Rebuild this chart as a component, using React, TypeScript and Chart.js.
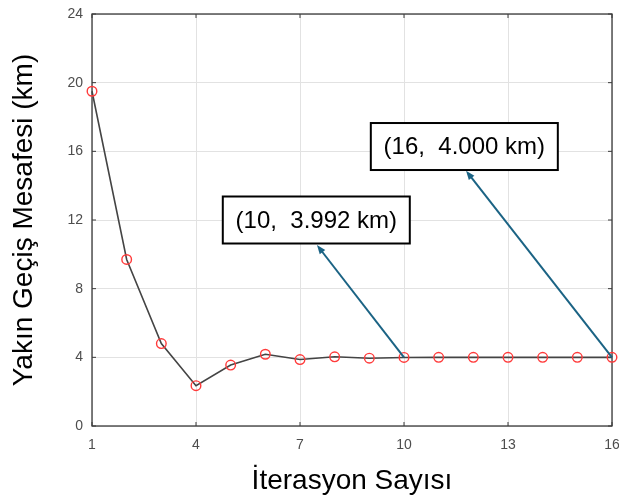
import React, { useEffect, useRef } from 'react';
import { Chart, registerables } from 'chart.js';

Chart.register(...registerables);

const iterations = [1, 2, 3, 4, 5, 6, 7, 8, 9, 10, 11, 12, 13, 14, 15, 16];
const distances = [19.5, 9.7, 4.8, 2.35, 3.55, 4.18, 3.87, 4.03, 3.95, 3.992, 4.0, 4.0, 4.0, 4.0, 4.0, 4.0];
const xTicks = [1, 4, 7, 10, 13, 16];
const yTicks = [0, 4, 8, 12, 16, 20, 24];
const xTitle = 'İterasyon Sayısı';
const yTitle = 'Yakın Geçiş Mesafesi (km)';
const noteLabels = ['(10,  3.992 km)', '(16,  4.000 km)'];
const noteIterations = [10, 16];

// annotation layout (data coordinates)
const noteBoxCenters = [
  { x: 7.47, y: 12.0 },
  { x: 11.74, y: 16.28 },
];
const noteArrowTips = [
  { x: 7.49, y: 10.54 },
  { x: 11.79, y: 14.87 },
];

const FONT = '"Liberation Sans", Arial, Helvetica, sans-serif';

const framePlugin = {
  id: 'frame',
  beforeDatasetsDraw(chart: any) {
    const { ctx, chartArea: a, scales } = chart;
    ctx.save();
    ctx.strokeStyle = '#3a3a3a';
    ctx.lineWidth = 1.3;
    ctx.strokeRect(a.left, a.top, a.right - a.left, a.bottom - a.top);
    ctx.lineWidth = 1;
    ctx.beginPath();
    xTicks.forEach((v) => {
      const px = scales.x.getPixelForValue(v);
      ctx.moveTo(px, a.bottom);
      ctx.lineTo(px, a.bottom - 4);
      ctx.moveTo(px, a.top);
      ctx.lineTo(px, a.top + 4);
    });
    yTicks.forEach((v) => {
      const py = scales.y.getPixelForValue(v);
      ctx.moveTo(a.left, py);
      ctx.lineTo(a.left + 4, py);
      ctx.moveTo(a.right, py);
      ctx.lineTo(a.right - 4, py);
    });
    ctx.stroke();
    ctx.restore();
  },
};

const notesPlugin = {
  id: 'notes',
  afterDatasetsDraw(chart: any) {
    const { ctx, scales } = chart;
    const xs = scales.x;
    const ys = scales.y;
    ctx.save();
    noteLabels.forEach((label, i) => {
      const it = noteIterations[i];
      const val = distances[iterations.indexOf(it)];
      const sx = xs.getPixelForValue(it);
      const sy = ys.getPixelForValue(val);
      const tx = xs.getPixelForValue(noteArrowTips[i].x);
      const ty = ys.getPixelForValue(noteArrowTips[i].y);
      const ang = Math.atan2(ty - sy, tx - sx);
      const headLen = 9;
      const headW = 3.5;
      ctx.strokeStyle = '#1b6384';
      ctx.fillStyle = '#1b6384';
      ctx.lineWidth = 2;
      ctx.beginPath();
      ctx.moveTo(sx, sy);
      ctx.lineTo(tx - Math.cos(ang) * headLen * 0.8, ty - Math.sin(ang) * headLen * 0.8);
      ctx.stroke();
      ctx.beginPath();
      ctx.moveTo(tx, ty);
      const bx = tx - Math.cos(ang) * headLen;
      const by = ty - Math.sin(ang) * headLen;
      ctx.lineTo(bx + Math.sin(ang) * headW, by - Math.cos(ang) * headW);
      ctx.lineTo(bx - Math.sin(ang) * headW, by + Math.cos(ang) * headW);
      ctx.closePath();
      ctx.fill();
      const cx = xs.getPixelForValue(noteBoxCenters[i].x);
      const cy = ys.getPixelForValue(noteBoxCenters[i].y);
      const w = 187;
      const h = 47;
      ctx.fillStyle = '#ffffff';
      ctx.fillRect(cx - w / 2, cy - h / 2, w, h);
      ctx.strokeStyle = '#000000';
      ctx.lineWidth = 2;
      ctx.strokeRect(cx - w / 2, cy - h / 2, w, h);
      ctx.fillStyle = '#000000';
      ctx.font = `24px ${FONT}`;
      ctx.textAlign = 'center';
      ctx.textBaseline = 'middle';
      ctx.fillText(label, cx, cy + 1);
    });
    ctx.restore();
  },
};

export default function App() {
  const ref = useRef<HTMLCanvasElement | null>(null);
  useEffect(() => {
    document.body.style.margin = '0';
    const canvas = ref.current;
    if (!canvas) return;
    const chart = new Chart(canvas, {
      type: 'line',
      data: {
        datasets: [
          {
            data: iterations.map((x, i) => ({ x, y: distances[i] })),
            borderColor: '#444444',
            borderWidth: 1.6,
            pointStyle: 'circle',
            pointRadius: 4.8,
            pointBorderColor: '#ff3a3a',
            pointBackgroundColor: 'rgba(0,0,0,0)',
            pointBorderWidth: 1.4,
            tension: 0,
            clip: false as any,
          },
        ],
      },
      options: {
        responsive: false,
        animation: false,
        layout: { padding: { left: 0, top: 14, right: 7, bottom: 0 } },
        plugins: { legend: { display: false }, tooltip: { enabled: false } },
        scales: {
          x: {
            type: 'linear',
            min: 1,
            max: 16,
            afterBuildTicks: (s: any) => {
              s.ticks = xTicks.map((v) => ({ value: v }));
            },
            afterFit: (s: any) => {
              s.height = 72;
              s.paddingLeft = 0;
              s.paddingRight = 0;
            },
            grid: { color: '#e2e2e2', drawTicks: false, lineWidth: 1 },
            border: { display: false },
            ticks: {
              color: '#4d4d4d',
              font: { family: FONT, size: 14 },
              padding: 11,
              maxRotation: 0,
              autoSkip: false,
            },
            title: {
              display: true,
              text: xTitle,
              color: '#000000',
              font: { family: FONT, size: 28 },
              padding: { top: 0, bottom: 0 },
            },
          },
          y: {
            type: 'linear',
            min: 0,
            max: 24,
            afterBuildTicks: (s: any) => {
              s.ticks = yTicks.map((v) => ({ value: v }));
            },
            afterFit: (s: any) => {
              s.width = 92;
              s.paddingTop = 0;
              s.paddingBottom = 0;
            },
            grid: { color: '#e2e2e2', drawTicks: false, lineWidth: 1 },
            border: { display: false },
            ticks: {
              color: '#4d4d4d',
              font: { family: FONT, size: 14 },
              padding: 9,
              autoSkip: false,
            },
            title: {
              display: true,
              text: yTitle,
              color: '#000000',
              font: { family: FONT, size: 28 },
              padding: { top: 7, bottom: 0 },
            },
          },
        },
      },
      plugins: [framePlugin, notesPlugin],
    });
    return () => chart.destroy();
  }, []);
  return <canvas ref={ref} width={619} height={498} style={{ display: 'block' }} />;
}
